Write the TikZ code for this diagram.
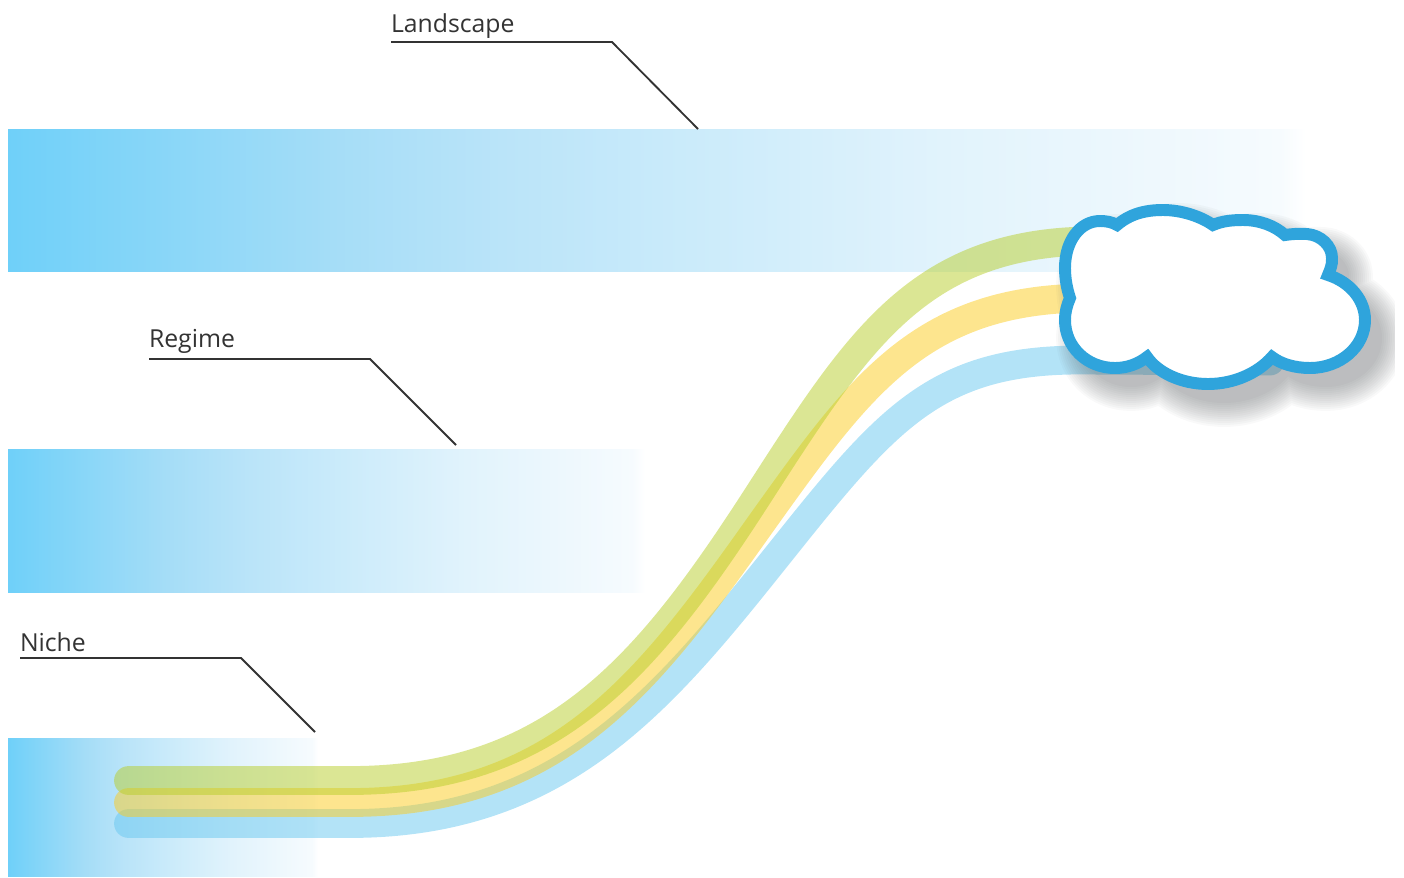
\documentclass[tikz,border=0pt]{standalone}
\usepackage{fontspec}
\setmainfont{Open Sans}
\usepackage{xcolor}
\usetikzlibrary{positioning,calc}
\definecolor{ink}{HTML}{333333}
\definecolor{bandblue}{HTML}{6FD0F9}
\definecolor{fadea}{RGB}{165,221,247}
\definecolor{fadeb}{RGB}{186,228,249}
\definecolor{fadec}{RGB}{200,234,250}
\definecolor{faded}{RGB}{225,243,252}
\definecolor{fadee}{RGB}{246,251,254}
\definecolor{cloudblue}{HTML}{2FA4DC}
\definecolor{strandgreen}{RGB}{184,206,42}
\definecolor{strandyellow}{RGB}{252,204,30}
\definecolor{strandblue}{RGB}{104,200,240}
\definecolor{shadowgray}{HTML}{4A4F52}
\pgfdeclarehorizontalshading{bandfade}{100bp}{
  color(0bp)=(bandblue); color(25bp)=(bandblue);
  color(37.5bp)=(fadea); color(44bp)=(fadeb); color(50bp)=(fadec);
  color(61bp)=(faded); color(74bp)=(fadee);
  color(75bp)=(white); color(100bp)=(white)}
\tikzset{
  band/.style={anchor=north west,inner sep=0pt,outer sep=0pt,shading=bandfade},
  tag/.style={anchor=south west,inner sep=0pt,outer sep=0pt,text=ink,
              font=\fontsize{14.1pt}{16pt}\selectfont,
              text height=11pt,text depth=5.4pt},
  leader/.style={draw=ink,line width=1.05pt},
  strand/.style={line width=16.4pt,line cap=round,opacity=0.5},
  cloudpath/.style={insert path={
    (1117,225) .. controls (1130,214) and (1145,210) .. (1163,210)
    .. controls (1181,210) and (1200,216) .. (1213,225)
    .. controls (1222,221) and (1232,220) .. (1243,220)
    .. controls (1260,220) and (1275,226) .. (1285,235)
    .. controls (1292,234) and (1298,233.5) .. (1307,234)
    .. controls (1321,235) and (1332,246) .. (1332,258)
    .. controls (1332.5,265) and (1330,270) .. (1328,275)
    .. controls (1350,282) and (1365,300) .. (1365,320)
    .. controls (1365,347) and (1340,368) .. (1310,368)
    .. controls (1295,368) and (1281,364) .. (1272,357)
    .. controls (1258,373) and (1234,384) .. (1208,384)
    .. controls (1182,384) and (1158,373) .. (1147,357)
    .. controls (1138,364) and (1127,368) .. (1115,368)
    .. controls (1087,368) and (1065,347) .. (1065,320)
    .. controls (1065,312) and (1067,305) .. (1070,298)
    .. controls (1067,289) and (1065,279) .. (1065,268)
    .. controls (1065,241) and (1080,221) .. (1100,221)
    .. controls (1106,221) and (1112,222) .. (1117,225) -- cycle}}
}

\begin{document}
\begin{tikzpicture}[x=0.02cm,y=-0.02cm]
  \useasboundingbox (0,0) rectangle (1404,877);
  % bands
  \node[band,minimum width=25.96cm,minimum height=2.86cm] (landscape) at (8,129) {};
  \node[band,minimum width=12.74cm,minimum height=2.88cm] (regime) at (8,449) {};
  \node[band,minimum width=6.2cm,minimum height=2.78cm] (niche) at (8,738) {};
  % labels and leaders
  \node[tag] (landscapetag) at (391,42) {Landscape};
  \node[tag,text depth=6.5pt] (regimetag) at (149,359) {Regime};
  \node[tag,text depth=3.7pt] (nichetag) at (20,658) {Niche};
  \coordinate (landscapeknee) at (612,42);
  \coordinate (regimeknee) at (370,359);
  \coordinate (nicheknee) at (241,658);
  \coordinate (landscapeend) at (698,129);
  \coordinate (regimeend) at (456,445);
  \coordinate (nicheend) at (315,732);
  \draw[leader] (landscapetag.south west) -- (landscapeknee) -- (landscapeend);
  \draw[leader] (regimetag.south west) -- (regimeknee) -- (regimeend);
  \draw[leader] (nichetag.south west) -- (nicheknee) -- (nicheend);
  % strands
  \draw[strand,strandblue] (128.5,823.5) -- (350,823.5)
    .. controls (570,823.5) and (670,690) .. (790,540)
    .. controls (890,415) and (940,360) .. (1080,360) -- (1270,361);
  \draw[strand,strandyellow] (128.5,802.5) -- (350,802.5)
    .. controls (560,802.5) and (650,680) .. (760,525)
    .. controls (860,385) and (920,300) .. (1085,298);
  \draw[strand,strandgreen] (128.5,780.5) -- (350,780.5)
    .. controls (550,780.5) and (645,670) .. (755,500)
    .. controls (855,345) and (915,245) .. (1085,241);
  % cloud
  \begin{scope}
    \clip (1000,150) rectangle (1394,460);
    \foreach \w in {2,6,...,50} {
      \begin{scope}[shift={(16,18)},opacity=0.035,transparency group]
        \draw[shadowgray,opacity=1,line width=\w*0.567pt,line join=round,
              fill=shadowgray,cloudpath];
      \end{scope}
    }
  \end{scope}
  \draw[cloudblue,fill=white,line width=6.8pt,cloudpath];
\end{tikzpicture}
\end{document}
